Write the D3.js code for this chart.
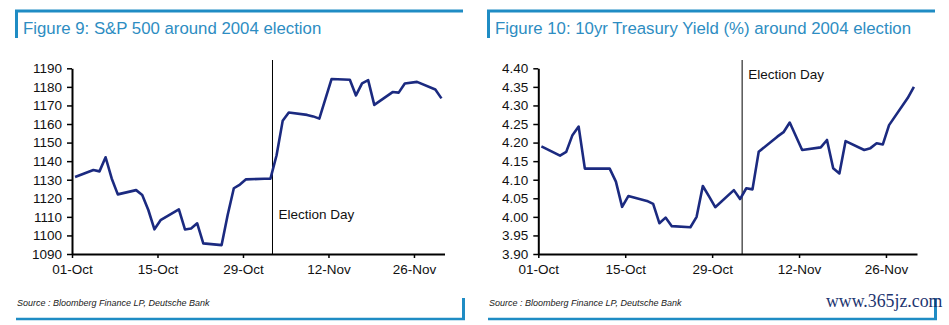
<!DOCTYPE html>
<html>
<head>
<meta charset="utf-8">
<script src="https://cdn.jsdelivr.net/npm/d3@7"></script>
<style>
  body { margin: 0; background: #fff; }
  svg { display: block; font-family: "Liberation Sans", Arial, sans-serif; }
</style>
</head>
<body>
<script>
// Page size.
const WIDTH = 949;
const HEIGHT = 325;

// S&P 500 daily closes, Oct-Nov 2004
const spxDates = ["2004-10-01","2004-10-04","2004-10-05","2004-10-06","2004-10-07","2004-10-08",
  "2004-10-11","2004-10-12","2004-10-13","2004-10-14","2004-10-15","2004-10-18","2004-10-19",
  "2004-10-20","2004-10-21","2004-10-22","2004-10-25","2004-10-26","2004-10-27","2004-10-28",
  "2004-10-29","2004-11-01","2004-11-02","2004-11-03","2004-11-04","2004-11-05","2004-11-08",
  "2004-11-09","2004-11-10","2004-11-11","2004-11-12","2004-11-15","2004-11-16","2004-11-17",
  "2004-11-18","2004-11-19","2004-11-22","2004-11-23","2004-11-24","2004-11-26","2004-11-29",
  "2004-11-30"];
const spxValues = [1131.5,1135.2,1134.5,1142.1,1130.7,1122.1,1124.4,1121.8,1113.7,1103.3,1108.2,
  1114.0,1103.2,1103.7,1106.5,1095.7,1094.8,1111.1,1125.4,1127.4,1130.2,1130.5,1130.6,1143.2,
  1161.7,1166.2,1164.9,1164.1,1162.9,1173.5,1184.2,1183.8,1175.4,1181.9,1183.6,1170.3,1177.2,
  1176.9,1181.8,1182.7,1178.6,1173.8];

// 10yr Treasury yield (%), Oct-Nov 2004
const ustDates = ["2004-10-01","2004-10-04","2004-10-05","2004-10-06","2004-10-07","2004-10-08",
  "2004-10-11","2004-10-12","2004-10-13","2004-10-14","2004-10-15","2004-10-18","2004-10-19",
  "2004-10-20","2004-10-21","2004-10-22","2004-10-25","2004-10-26","2004-10-27","2004-10-28",
  "2004-10-29","2004-11-01","2004-11-02","2004-11-03","2004-11-04","2004-11-05","2004-11-08",
  "2004-11-09","2004-11-10","2004-11-12","2004-11-15","2004-11-16","2004-11-17","2004-11-18",
  "2004-11-19","2004-11-22","2004-11-23","2004-11-24","2004-11-25","2004-11-26","2004-11-29",
  "2004-11-30"];
const ustValues = [4.19,4.165,4.175,4.22,4.243,4.13,4.13,4.13,4.095,4.027,4.056,4.043,4.035,
  3.983,3.998,3.975,3.972,4.0,4.083,4.055,4.026,4.072,4.048,4.077,4.074,4.175,4.216,4.228,
  4.254,4.18,4.187,4.207,4.131,4.117,4.204,4.18,4.185,4.198,4.195,4.247,4.32,4.35];

// Axis ticks
const xTickDates = ["2004-10-01","2004-10-15","2004-10-29","2004-11-12","2004-11-26"];
const spxTicks = [1090,1100,1110,1120,1130,1140,1150,1160,1170,1180,1190];
const ustTicks = [3.90,3.95,4.00,4.05,4.10,4.15,4.20,4.25,4.30,4.35,4.40];
const electionDate = "2004-11-02T20:00";

const titles = ["Figure 9: S&P 500 around 2004 election",
                "Figure 10: 10yr Treasury Yield (%) around 2004 election"];
const sourceText = "Source : Bloomberg Finance LP, Deutsche Bank";

const BLUE = "#1f8cc4";
const LINE = "#1b2a80";

const parse = d3.utcParse("%Y-%m-%d");
const parseT = d3.utcParse("%Y-%m-%dT%H:%M");

const svg = d3.select("body").append("svg").attr("width", WIDTH).attr("height", HEIGHT);

function panel(opt) {
    const g = svg.append("g");

    // frame decoration
    g.append("line").attr("x1", opt.fx0).attr("x2", opt.fx1).attr("y1", 11).attr("y2", 11)
        .attr("stroke", BLUE).attr("stroke-width", 3);
    g.append("rect").attr("x", opt.fx0).attr("y", 10).attr("width", 3).attr("height", 28).attr("fill", BLUE);
    g.append("line").attr("x1", opt.fx0 + 1).attr("x2", opt.fx1 + 2).attr("y1", 319).attr("y2", 319)
        .attr("stroke", BLUE).attr("stroke-width", 2.5);
    g.append("rect").attr("x", opt.fx1 - 1).attr("y", 298).attr("width", 3).attr("height", 22).attr("fill", BLUE);

    g.append("text").attr("x", opt.fx0 + 8).attr("y", 34).attr("fill", "#2d8dc2")
        .style("font-size", "16.8px").text(opt.title);
    g.append("text").attr("x", opt.fx0 + 2).attr("y", 306).attr("fill", "#222")
        .style("font-size", "9px").style("font-style", "italic").text(sourceText);

    const x = d3.scaleUtc().domain([parse("2004-10-01"), parse("2004-12-01")]).range([opt.px0, opt.px1]);
    const y = d3.scaleLinear().domain(opt.domain).range([254, 68.3]);

    const xAxis = g.append("g").attr("transform", "translate(0,254)")
        .call(d3.axisBottom(x).tickValues(xTickDates.map(parse)).tickFormat(d3.utcFormat("%d-%b"))
            .tickSize(4).tickPadding(6).tickSizeOuter(0));
    const yAxis = g.append("g").attr("transform", `translate(${opt.px0},0)`)
        .call(d3.axisLeft(y).tickValues(opt.ticks).tickFormat(opt.fmt).tickSize(5).tickPadding(5).tickSizeOuter(0));
    [xAxis, yAxis].forEach(a => {
        a.select(".domain").attr("stroke", "#000").attr("stroke-width", 2);
        a.selectAll(".tick line").attr("stroke", "#000").attr("stroke-width", 1.5);
        a.selectAll("text").attr("fill", "#111").style("font-size", "13.5px").style("font-family", "'Liberation Sans', Arial, sans-serif");
    });

    // election day marker
    const ex = x(parseT(electionDate));
    g.append("line").attr("x1", ex).attr("x2", ex).attr("y1", 60).attr("y2", 254)
        .attr("stroke", "#000").attr("stroke-width", 1);
    g.append("text").attr("x", ex + 6).attr("y", opt.labelY).attr("fill", "#111")
        .style("font-size", "13.5px").text("Election Day");

    // series, plotted mid-day
    const pts = opt.dates.map((d, i) => [d3.utcHour.offset(parse(d), 12), opt.values[i]]);
    g.append("path").datum(pts)
        .attr("fill", "none").attr("stroke", LINE).attr("stroke-width", 2.6).attr("stroke-linejoin", "round")
        .attr("d", d3.line().x(d => x(d[0])).y(d => y(d[1])));
}

panel({fx0: 15, fx1: 463, px0: 72, px1: 444.5, title: titles[0], domain: [1090, 1190],
       ticks: spxTicks, fmt: d3.format("d"), dates: spxDates, values: spxValues, labelY: 219});
panel({fx0: 487, fx1: 935, px0: 538.3, px1: 917, title: titles[1], domain: [3.9, 4.4],
       ticks: ustTicks, fmt: d3.format(".2f"), dates: ustDates, values: ustValues, labelY: 79});

// watermark
svg.append("text").attr("x", 826).attr("y", 307).attr("fill", "#1d3570")
    .style("font-family", "'Liberation Serif', 'DejaVu Serif', serif").style("font-size", "17.8px")
    .text("www.365jz.com");
</script>
</body>
</html>
